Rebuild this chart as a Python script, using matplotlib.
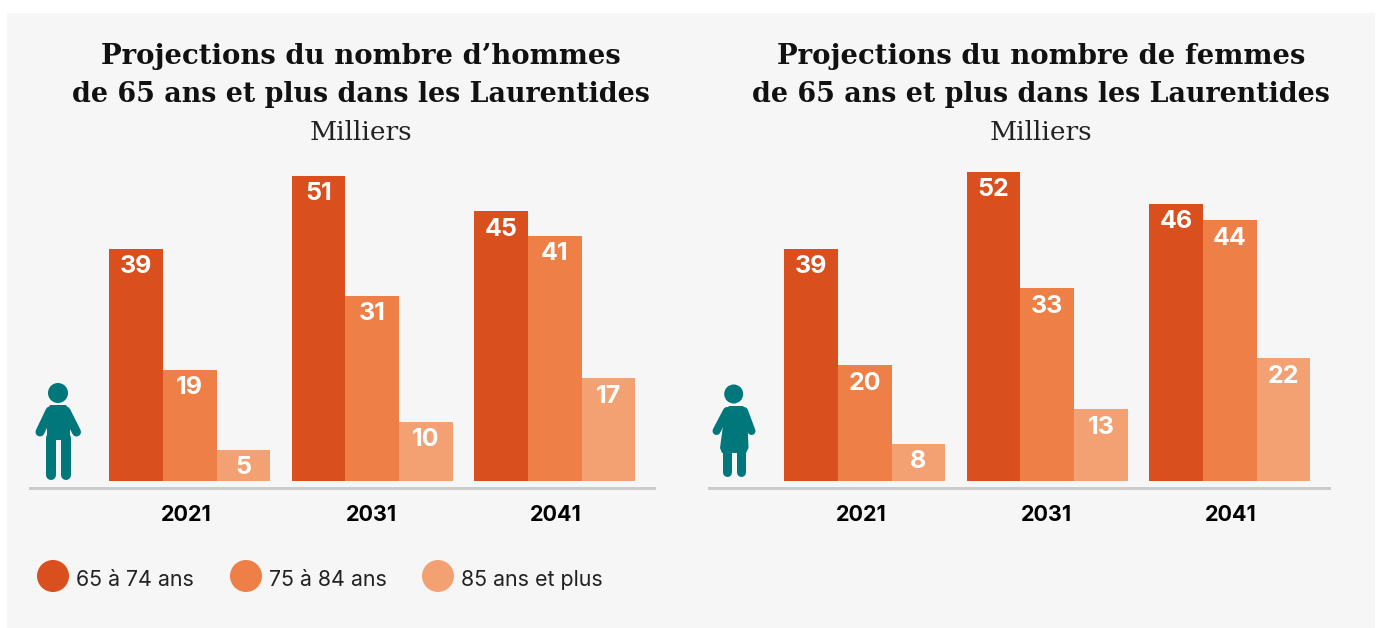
import numpy as np
import matplotlib
matplotlib.use("Agg")
import matplotlib.pyplot as plt
from matplotlib.patches import Circle, Polygon, Rectangle
from matplotlib.lines import Line2D

W, H = 1377, 628
BG = "#f6f6f6"
TEAL = "#00777b"
COLORS = ["#d94f1e", "#ee8047", "#f3a173"]

years = ["2021", "2031", "2041"]
ages = ["65 à 74 ans", "75 à 84 ans", "85 ans et plus"]
# printed labels
hommes = [[39, 51, 45], [19, 31, 41], [5, 10, 17]]
femmes = [[39, 52, 46], [20, 33, 44], [8, 13, 22]]
# bar heights as measured on the picture (they differ a bit from the labels)
hommes_h = [[38.9, 51.1, 45.2], [18.6, 31.0, 41.1], [5.2, 9.9, 17.2]]
femmes_h = [[38.9, 51.8, 46.4], [19.4, 32.3, 43.7], [6.2, 12.0, 20.6]]
titre_h = ["Projections du nombre d’hommes", "de 65 ans et plus dans les Laurentides"]
titre_f = ["Projections du nombre de femmes", "de 65 ans et plus dans les Laurentides"]

SANS = "Inter"
SERIF = "DejaVu Serif"
PX = 72 / 100  # points per pixel at dpi 100

fig = plt.figure(figsize=(W / 100, H / 100), dpi=100, facecolor="white")

# overlay in pixel coords for the panel, titles, icons and legend
ov = fig.add_axes([0, 0, 1, 1], zorder=0)
ov.set_xlim(0, W); ov.set_ylim(H, 0); ov.axis("off")
ov.add_patch(Rectangle((7, 13), 1368, 615, color=BG, lw=0))


def bars(x0, x1, first_center, heights, labels):
    # one unit on x = distance between year groups (182.5 px)
    top, base, line = 150, 481, 488
    ax = fig.add_axes([x0 / W, 1 - line / H, (x1 - x0) / W, (line - top) / H], zorder=1)
    ax.patch.set_alpha(0)
    ax.set_xlim((x0 - first_center) / 182.5, (x1 - first_center) / 182.5)
    ax.set_ylim(-(line - base) / 5.97, (base - top) / 5.97)
    w = 53.67 / 182.5
    x = np.arange(len(years))
    for i, vals in enumerate(heights):
        pos = x + (i - 1) * w
        ax.bar(pos, vals, width=w, color=COLORS[i], lw=0)
        for p, v, lab in zip(pos, vals, labels[i]):
            ax.annotate(str(lab), (p, v), xytext=(0, -18 * PX), textcoords="offset points",
                        ha="center", va="center", color="white", fontsize=18,
                        fontweight="bold", family=SANS)
    for s in ["top", "left", "right"]:
        ax.spines[s].set_visible(False)
    ax.spines["bottom"].set_color("#cccccc")
    ax.spines["bottom"].set_linewidth(3 * PX)
    ax.set_yticks([])
    ax.set_xticks([])
    # year labels are spaced a little wider than the bar groups in the original
    for xi, y, dx in zip(x, years, [-3.7, -1.2, 1.3]):
        ax.annotate(y, (xi, 0), xytext=(dx * PX, -34 * PX), textcoords="offset points",
                    ha="center", va="center", color="black", fontsize=15.5,
                    fontweight="bold", family=SANS)
    return ax


bars(29.5, 653.5, 189.7, hommes_h, hommes)
bars(708.5, 1328.5, 864.7, femmes_h, femmes)

for cx, lignes in [(361, titre_h), (1041, titre_f)]:
    ov.text(cx, 57, lignes[0], ha="center", va="center", fontsize=19.8, fontweight="bold", family=SERIF, color="#111111")
    ov.text(cx, 95, lignes[1], ha="center", va="center", fontsize=19.4, fontweight="bold", family=SERIF, color="#111111")
    ov.text(cx, 133, "Milliers", ha="center", va="center", fontsize=19, family=SERIF, color="#222222")


def stroke(xs, ys, width):
    ov.add_line(Line2D(xs, ys, color=TEAL, lw=width * PX, solid_capstyle="round"))


# homme
ov.add_patch(Circle((58, 393), 10, color=TEAL, lw=0))
ov.add_patch(Polygon([(50, 405), (66, 405), (70, 411), (70, 440), (47, 440), (47, 411)], color=TEAL, lw=0))
stroke([50, 40], [411, 432], 9)
stroke([66, 76.5], [411, 432], 9)
stroke([51, 51], [438, 475], 10)
stroke([66, 66], [438, 475], 10)

# femme
ov.add_patch(Circle((733.7, 394), 9.5, color=TEAL, lw=0))
ov.add_patch(Polygon([(729, 406), (743, 406), (747, 411), (748.5, 448), (746, 453), (722, 453), (720, 448), (725, 411)], color=TEAL, lw=0))
stroke([727, 716.5], [411, 431], 8)
stroke([744, 751.5], [411, 431], 8)
stroke([726.5, 726.5], [450, 471.5], 9)
stroke([741, 741], [450, 471.5], 9)

# legende
for lx, c, txt in zip([53, 246, 438], COLORS, ages):
    ov.add_patch(Circle((lx, 576), 16, color=c, lw=0))
    ov.text(lx + 23, 580, txt, ha="left", va="center", fontsize=15.4, family=SANS, color="#222222")

fig.savefig("out.png", dpi=100)
